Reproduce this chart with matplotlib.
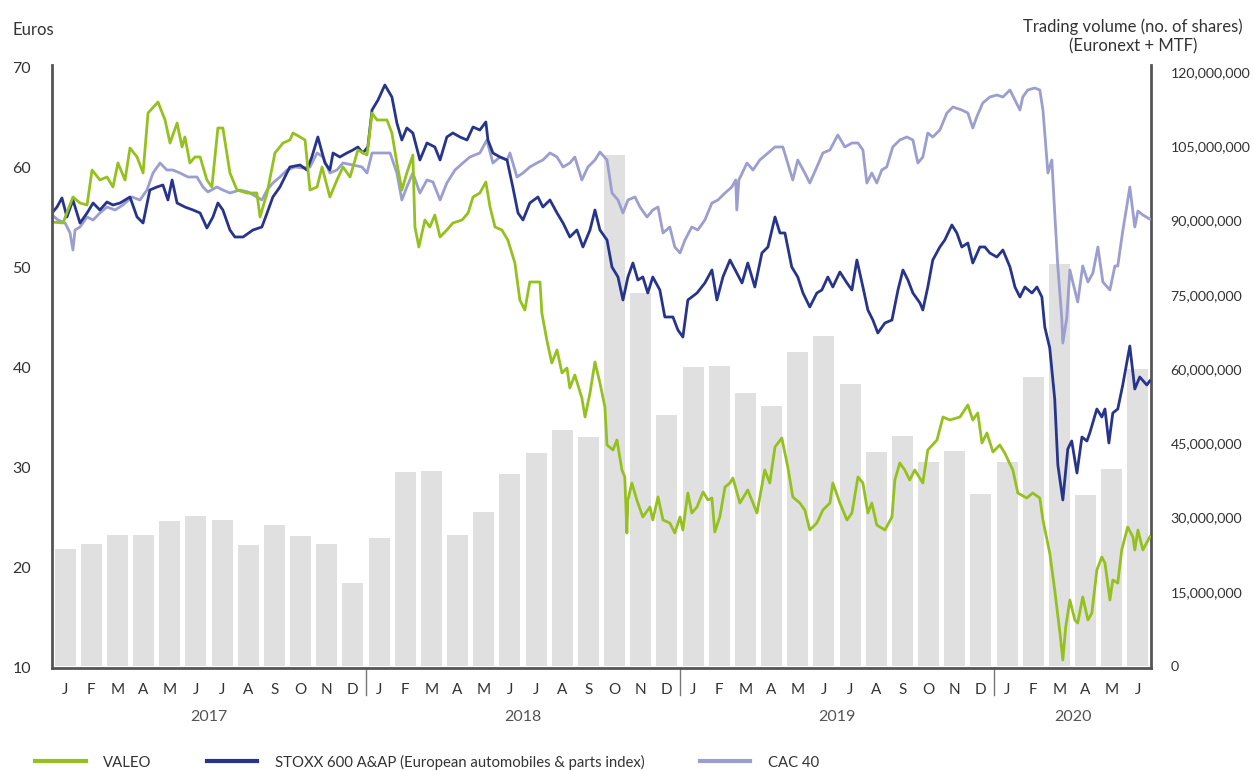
import matplotlib.pyplot as plt
import matplotlib.transforms as mtransforms
from matplotlib.lines import Line2D
from matplotlib.ticker import FuncFormatter
import numpy as np

plt.rcParams['font.family'] = ['Lato', 'DejaVu Sans']

# monthly trading volume (Jan 2017 .. Jun 2020), shares
volume = [23.6, 24.6, 26.5, 26.5, 29.3, 30.3, 29.5, 24.4, 28.5, 26.3, 24.6, 16.8,
          25.9, 39.2, 39.4, 26.5, 31.1, 38.8, 43.0, 47.7, 46.3, 103.3, 75.4, 50.7,
          60.4, 60.6, 55.2, 52.5, 63.4, 66.7, 57.0, 43.2, 46.5, 41.2, 43.4, 34.7,
          41.2, 58.4, 81.2, 34.5, 39.8, 60.0]
volume = [v * 1e6 for v in volume]

month_letters = ["J", "F", "M", "A", "M", "J", "J", "A", "S", "O", "N", "D"]
years = ["2017", "2018", "2019", "2020"]
year_centers = [6, 18, 30, 39]

# time in months since 1 Jan 2017, price in euros
valeo_t = [0, 0.42, 0.80, 1.07, 1.34, 1.53, 1.83, 2.10, 2.33, 2.52, 2.79, 2.98, 3.25, 3.48, 3.67,
           4.05, 4.32, 4.51, 4.78, 4.97, 5.08, 5.27, 5.46, 5.66, 5.92, 6.11, 6.34, 6.53, 6.80,
           7.07, 7.45, 7.83, 7.95, 8.22, 8.52, 8.83, 9.09, 9.21, 9.48, 9.67, 9.86, 10.13, 10.32,
           10.62, 10.89, 11.12, 11.39, 11.69, 12.04, 12.23, 12.42, 12.80, 12.99, 13.18, 13.37,
           13.56, 13.79, 13.87, 14.02, 14.25, 14.44, 14.63, 14.83, 15.09, 15.32, 15.67, 15.90,
           16.09, 16.35, 16.58, 16.74, 16.93, 17.19, 17.42, 17.69, 17.88, 18.07, 18.26, 18.65,
           18.72, 18.91, 19.10, 19.30, 19.49, 19.68, 19.79, 19.98, 20.25, 20.37, 20.56, 20.75,
           20.94, 21.13, 21.21, 21.44, 21.59, 21.78, 21.89, 21.97, 22.01, 22.16, 22.35, 22.58,
           22.85, 22.96, 23.16, 23.35, 23.61, 23.80, 24.00, 24.11, 24.30, 24.45, 24.65, 24.88,
           25.07, 25.22, 25.33, 25.52, 25.72, 25.91, 26.02, 26.29, 26.59, 26.94, 27.24, 27.43,
           27.63, 27.89, 28.12, 28.31, 28.58, 28.77, 28.96, 29.23, 29.46, 29.73, 29.84, 30.11,
           30.38, 30.57, 30.80, 30.99, 31.18, 31.33, 31.52, 31.83, 32.10, 32.21, 32.40, 32.59,
           32.78, 32.97, 33.28, 33.47, 33.82, 34.05, 34.31, 34.70, 35.00, 35.19, 35.38, 35.54,
           35.73, 35.96, 36.22, 36.41, 36.72, 36.91, 37.25, 37.48, 37.75, 37.87, 38.13, 38.32,
           38.52, 38.63, 38.74, 38.90, 39.09, 39.20, 39.39, 39.59, 39.74, 39.93, 40.12, 40.24,
           40.43, 40.54, 40.73, 40.88, 41.11, 41.31, 41.38, 41.50, 41.69, 41.95]
valeo = [54.6, 54.5, 57.1, 56.5, 56.3, 59.8, 58.8, 59.1, 58.1, 60.5, 58.8, 62.0, 61.1, 59.5, 65.5,
         66.6, 64.8, 62.5, 64.5, 62.1, 63.1, 60.5, 61.1, 61.1, 58.8, 58.1, 64.0, 64.0, 59.5,
         57.8, 57.5, 57.5, 55.1, 57.5, 61.5, 62.5, 62.8, 63.5, 63.1, 62.8, 57.8, 58.1, 60.1,
         57.1, 58.8, 60.1, 59.1, 61.8, 61.3, 65.5, 64.8, 64.8, 63.5, 60.5, 57.8,
         59.5, 61.3, 54.1, 52.1, 54.8, 54.1, 55.3, 53.1, 53.8, 54.5, 54.8, 55.5,
         57.1, 57.5, 58.6, 56.1, 54.1, 53.8, 52.8, 50.5, 46.8, 45.8, 48.6, 48.6,
         45.5, 42.8, 40.5, 41.8, 39.5, 40.0, 38.0, 39.3, 37.0, 35.1, 37.5, 40.6,
         38.5, 36.1, 32.3, 31.8, 32.8, 29.8, 29.1, 23.5, 26.8, 28.5, 26.8, 25.1,
         26.1, 24.8, 27.1, 24.8, 24.5, 23.5, 25.1, 23.8, 27.5, 25.5, 26.1, 27.6,
         26.8, 27.0, 23.6, 25.1, 28.1, 28.5, 29.0, 26.5, 27.8, 25.5, 29.8, 28.5,
         32.1, 33.0, 30.1, 27.1, 26.5, 25.8, 23.8, 24.5, 25.8, 26.5, 28.5, 26.5,
         24.8, 25.5, 29.1, 28.5, 25.5, 26.5, 24.3, 23.8, 25.1, 28.8, 30.5, 29.8,
         28.8, 29.8, 28.5, 31.8, 32.8, 35.1, 34.8, 35.1, 36.3, 34.8, 35.5, 32.5,
         33.5, 31.6, 32.3, 31.5, 29.8, 27.5, 27.0, 27.5, 27.0, 24.8, 21.5, 17.8,
         13.5, 10.8, 14.1, 16.8, 14.8, 14.5, 17.1, 14.8, 15.5, 19.8, 21.1, 20.5,
         16.8, 18.8, 18.5, 21.8, 24.1, 23.1, 21.8, 23.8, 21.8, 23.1]

stoxx_t = [0, 0.19, 0.38, 0.57, 0.80, 1.07, 1.34, 1.57, 1.83, 2.10, 2.33, 2.60, 2.98, 3.25, 3.48,
           3.74, 4.01, 4.24, 4.43, 4.59, 4.78, 5.08, 5.39, 5.66, 5.92, 6.15, 6.34, 6.53, 6.80,
           6.99, 7.30, 7.68, 8.02, 8.22, 8.44, 8.71, 9.09, 9.48, 9.74, 9.93, 10.16, 10.43, 10.62,
           10.74, 11.00, 11.27, 11.50, 11.69, 11.88, 12.07, 12.23, 12.46, 12.72, 12.99, 13.18,
           13.37, 13.56, 13.79, 14.06, 14.33, 14.63, 14.83, 15.09, 15.32, 15.59, 15.86, 16.09,
           16.35, 16.58, 16.66, 16.85, 17.12, 17.39, 17.61, 17.81, 18.00, 18.26, 18.57, 18.76,
           19.03, 19.30, 19.53, 19.79, 20.06, 20.29, 20.56, 20.75, 20.94, 21.21, 21.40, 21.63,
           21.82, 22.01, 22.20, 22.39, 22.58, 22.77, 22.96, 23.23, 23.42, 23.73, 23.92, 24.11,
           24.30, 24.65, 24.95, 25.22, 25.41, 25.64, 25.91, 26.17, 26.37, 26.59, 26.86, 27.13,
           27.36, 27.63, 27.82, 28.01, 28.27, 28.50, 28.70, 28.96, 29.23, 29.42, 29.65, 29.84,
           30.11, 30.38, 30.57, 30.76, 30.99, 31.18, 31.37, 31.56, 31.83, 32.10, 32.33, 32.52,
           32.71, 32.90, 33.17, 33.28, 33.47, 33.66, 33.93, 34.12, 34.39, 34.58, 34.77, 35.00,
           35.19, 35.46, 35.65, 35.84, 36.11, 36.34, 36.61, 36.80, 36.99, 37.18, 37.45, 37.64,
           37.83, 37.94, 38.13, 38.32, 38.44, 38.63, 38.82, 38.97, 39.17, 39.36, 39.55, 39.66,
           39.93, 40.12, 40.24, 40.39, 40.54, 40.73, 40.92, 41.19, 41.38, 41.57, 41.84, 41.95]
stoxx = [55.5, 56.1, 57.0, 55.1, 56.8, 54.5, 55.5, 56.5, 55.8, 56.6, 56.3, 56.5, 57.1, 55.1, 54.5,
         57.8, 58.1, 58.3, 56.8, 58.8, 56.5, 56.1, 55.8, 55.5, 54.0, 55.1, 56.5, 55.8, 53.8,
         53.1, 53.1, 53.8, 54.1, 55.5, 57.1, 58.1, 60.1, 60.3, 59.8, 61.1, 63.1, 60.5, 59.8,
         61.5, 61.1, 61.5, 61.8, 62.1, 61.5, 62.1, 65.8, 66.8, 68.3, 67.1, 64.5,
         62.8, 64.0, 63.5, 60.8, 62.5, 62.1, 60.8, 63.1, 63.5, 63.1, 62.8, 64.1,
         63.8, 64.6, 62.8, 61.5, 61.1, 60.8, 58.1, 55.5, 54.8, 56.5, 57.1, 56.1,
         56.8, 55.5, 54.5, 53.1, 53.8, 52.1, 53.8, 55.8, 53.8, 52.8, 50.1, 49.1,
         46.8, 49.1, 50.5, 48.8, 49.1, 47.5, 49.1, 47.8, 45.1, 45.1, 43.8, 43.1,
         46.8, 47.5, 48.5, 49.8, 46.8, 49.1, 50.8, 49.5, 48.5, 50.5, 48.1, 51.5,
         52.1, 55.1, 53.5, 53.5, 50.1, 49.1, 47.5, 46.1, 47.5, 47.8, 49.1, 48.1,
         49.6, 48.5, 47.8, 50.8, 48.1, 45.8, 44.8, 43.5, 44.5, 44.8, 47.8, 49.8,
         48.8, 47.5, 46.5, 45.8, 48.1, 50.8, 52.1, 52.8, 54.3, 53.5, 52.1, 52.5,
         50.5, 52.1, 52.1, 51.5, 51.1, 51.8, 50.1, 48.1, 47.1, 48.1, 47.5, 48.1,
         47.1, 44.1, 42.0, 36.9, 30.3, 26.8, 31.9, 32.7, 29.5, 33.1, 32.7, 33.5,
         35.9, 35.1, 35.9, 32.5, 35.5, 35.9, 38.3, 42.2, 37.9, 39.1, 38.3, 38.7]

cac_t = [0, 0.23, 0.50, 0.69, 0.80, 0.88, 1.07, 1.34, 1.57, 1.83, 2.10, 2.41, 2.71, 3.06, 3.36,
         3.63, 3.86, 4.13, 4.39, 4.62, 4.89, 5.20, 5.54, 5.77, 5.96, 6.30, 6.53, 6.80, 7.18,
         7.49, 7.83, 8.02, 8.22, 8.44, 8.71, 8.98, 9.29, 9.59, 9.86, 10.13, 10.36, 10.62, 10.89,
         11.12, 11.50, 11.85, 12.04, 12.23, 12.53, 12.92, 13.18, 13.37, 13.56, 13.79, 14.06,
         14.33, 14.56, 14.83, 15.09, 15.40, 15.70, 15.97, 16.35, 16.62, 16.85, 17.12, 17.39,
         17.50, 17.77, 18.00, 18.26, 18.53, 18.76, 19.03, 19.30, 19.53, 19.79, 19.98, 20.25,
         20.48, 20.75, 20.94, 21.21, 21.40, 21.63, 21.82, 22.01, 22.28, 22.47, 22.74, 22.96,
         23.16, 23.35, 23.61, 23.80, 24.00, 24.19, 24.45, 24.68, 24.95, 25.22, 25.45, 25.72,
         25.98, 26.13, 26.17, 26.25, 26.56, 26.79, 27.05, 27.36, 27.63, 27.93, 28.31, 28.50,
         28.77, 28.96, 29.23, 29.46, 29.73, 30.03, 30.30, 30.57, 30.80, 30.99, 31.14, 31.33,
         31.52, 31.71, 31.90, 32.13, 32.40, 32.67, 32.90, 33.09, 33.28, 33.47, 33.66, 33.93,
         34.20, 34.43, 34.77, 35.00, 35.19, 35.34, 35.57, 35.84, 36.11, 36.34, 36.61, 36.80,
         36.99, 37.10, 37.29, 37.56, 37.75, 37.87, 37.94, 38.06, 38.21, 38.32, 38.44, 38.59,
         38.63, 38.78, 38.90, 39.01, 39.20, 39.39, 39.59, 39.78, 39.97, 40.16, 40.43, 40.62,
         40.73, 40.92, 41.07, 41.19, 41.38, 41.50, 41.69, 41.95]
cac = [55.3, 54.8, 54.5, 53.5, 51.8, 53.8, 54.1, 55.1, 54.8, 55.5, 56.1, 55.8, 56.3, 57.1, 56.8,
       57.8, 59.5, 60.5, 59.8, 59.8, 59.5, 59.1, 59.1, 58.1, 57.6, 58.1, 57.8, 57.5, 57.8,
       57.6, 57.1, 56.8, 57.8, 58.5, 59.1, 59.8, 60.1, 60.0, 60.1, 61.5, 61.1, 59.5, 59.8,
       60.5, 60.3, 60.1, 59.5, 61.5, 61.5, 61.5, 59.5, 56.8, 58.1, 59.5, 57.5,
       58.8, 58.6, 56.8, 58.5, 59.8, 60.5, 61.1, 61.5, 62.8, 60.5, 61.1, 60.8,
       61.5, 59.1, 59.5, 60.1, 60.5, 60.8, 61.5, 61.1, 60.1, 60.5, 61.1, 58.8,
       60.1, 60.8, 61.6, 60.8, 57.5, 56.8, 55.5, 56.8, 57.1, 56.1, 55.1, 55.8,
       56.1, 53.5, 54.1, 52.1, 51.5, 52.8, 54.1, 53.8, 54.8, 56.5, 56.8, 57.5,
       58.1, 58.8, 55.8, 58.8, 60.5, 59.8, 60.8, 61.5, 62.1, 62.1, 58.8, 60.8,
       59.5, 58.5, 60.1, 61.5, 61.8, 63.3, 62.1, 62.5, 62.5, 61.8, 58.5, 59.5,
       58.5, 59.8, 60.1, 62.1, 62.8, 63.1, 62.8, 60.5, 61.1, 63.5, 63.1, 63.8,
       65.5, 66.1, 65.8, 65.5, 64.0, 65.1, 66.5, 67.1, 67.3, 67.1, 67.8, 66.8,
       65.8, 67.1, 67.8, 68.0, 67.8, 65.8, 63.5, 59.5, 60.8, 55.5, 50.1, 45.0,
       42.5, 45.0, 49.8, 48.6, 46.6, 50.2, 48.6, 49.5, 52.1, 48.6, 47.8, 50.2,
       50.2, 53.7, 56.1, 58.1, 54.1, 55.7, 55.3, 54.9]

GREEN = '#95C11F'
NAVY = '#27348B'
LILAC = '#9B9ECE'
BAR = '#E0E0E0'
AXIS = '#555555'
TXT = '#333333'

fig = plt.figure(figsize=(12.54, 7.71), dpi=100)
ax = fig.add_axes([0.04147, 0.1336, 0.8764, 0.7821])
ax2 = ax.twinx()

months = np.arange(len(volume)) + 0.5
ax2.bar(months, volume, width=0.8, color=BAR, zorder=1)

# lines sit above the bars
ax.set_zorder(ax2.get_zorder() + 1)
ax.patch.set_visible(False)

ax.plot(cac_t, cac, color=LILAC, lw=2.0, solid_joinstyle='round')
ax.plot(stoxx_t, stoxx, color=NAVY, lw=2.0, solid_joinstyle='round')
ax.plot(valeo_t, valeo, color=GREEN, lw=2.0, solid_joinstyle='round')

ax.set_xlim(0, 42)
ax.set_ylim(10, 70.3)
ax2.set_ylim(-0.4e6, 121.4e6)

ax.set_yticks(range(10, 71, 10))
ax2.set_yticks(np.arange(0, 120.1e6, 15e6))
ax2.yaxis.set_major_formatter(FuncFormatter(lambda v, p: f"{v:,.0f}"))

labels = [month_letters[i % 12] for i in range(len(volume))]
ax.set_xticks(months)
ax.set_xticklabels(labels)

ax.tick_params(axis='x', length=0, pad=11, labelsize=11, labelcolor=TXT)
ax.tick_params(axis='y', length=0, pad=15, labelsize=11.5, labelcolor=TXT)
ax2.tick_params(axis='y', length=0, pad=14, labelsize=10.2, labelcolor=TXT)

for a in (ax, ax2):
    a.spines['top'].set_visible(False)
ax.spines['right'].set_visible(False)
ax2.spines['left'].set_visible(False)
ax2.spines['bottom'].set_visible(False)
for s in (ax.spines['left'], ax.spines['bottom'], ax2.spines['right']):
    s.set_color(AXIS)
    s.set_linewidth(2)

trans = mtransforms.blended_transform_factory(ax.transData, ax.transAxes)
for yr, xc in zip(years, year_centers):
    ax.text(xc, -0.081, yr, transform=trans, ha='center', va='center',
            fontsize=11.5, color='#555555')
for xb in (12, 24, 36):
    ax.plot([xb, xb], [0, -0.045], transform=trans, color='#777777', lw=1,
            clip_on=False)

fig.text(12 / 1254, 1 - 30 / 771, "Euros", ha='left', va='center', fontsize=12, color=TXT)
fig.text(1133 / 1254, 1 - 36 / 771, "Trading volume (no. of shares)\n(Euronext + MTF)",
         ha='center', va='center', fontsize=12, color=TXT, linespacing=1.25)

handles = [Line2D([], [], color=GREEN, lw=3),
           Line2D([], [], color=NAVY, lw=3),
           Line2D([], [], color=LILAC, lw=3)]
names = ["VALEO", "STOXX 600 A&AP (European automobiles & parts index)", "CAC 40"]
fig.legend(handles, names, loc='center left', bbox_to_anchor=(35 / 1254, 1 - 762 / 771),
           ncol=3, frameon=False, fontsize=10.7, handlelength=3.4, handletextpad=1.2,
           columnspacing=3.7, borderpad=0, borderaxespad=0, labelcolor=TXT)

fig.savefig("out.png", dpi=100)
